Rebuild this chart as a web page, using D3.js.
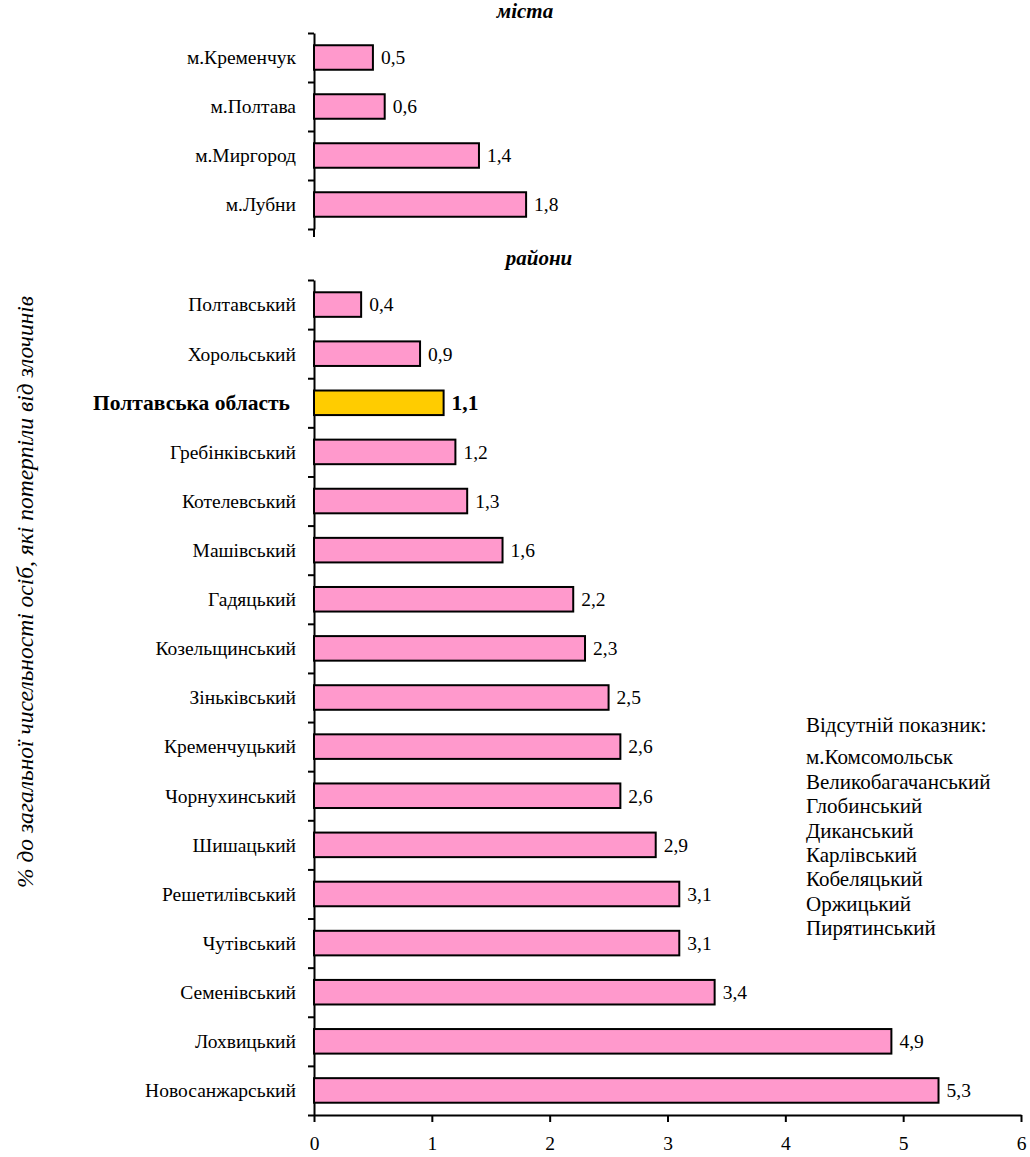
<!DOCTYPE html>
<html>
<head>
<meta charset="utf-8">
<script src="https://cdn.jsdelivr.net/npm/d3@7"></script>
<style>
  html, body { margin: 0; padding: 0; background: #fff; }
</style>
</head>
<body>
<script>
// Cities panel
const cities = ["м.Кременчук", "м.Полтава", "м.Миргород", "м.Лубни"];
const cityValues = [0.5, 0.6, 1.4, 1.8];

// Districts panel (regional average included)
const districts = ["Полтавський", "Хорольський", "Полтавська область", "Гребінківський",
  "Котелевський", "Машівський", "Гадяцький", "Козельщинський", "Зіньківський",
  "Кременчуцький", "Чорнухинський", "Шишацький", "Решетилівський", "Чутівський",
  "Семенівський", "Лохвицький", "Новосанжарський"];
const districtValues = [0.4, 0.9, 1.1, 1.2, 1.3, 1.6, 2.2, 2.3, 2.5, 2.6, 2.6, 2.9,
  3.1, 3.1, 3.4, 4.9, 5.3];
const regionLabel = "Полтавська область";

const xTicks = [0, 1, 2, 3, 4, 5, 6];
const panelTitles = ["міста", "райони"];
const missingTitle = "Відсутній показник:";
const missingItems = ["м.Комсомольськ", "Великобагачанський", "Глобинський", "Диканський",
  "Карлівський", "Кобеляцький", "Оржицький", "Пирятинський"];
const yTitle = "% до загальної чисельності осіб, які потерпіли від злочинів";

const W = 1030, H = 1157;
const PINK = "#FF99CC", GOLD = "#FFCC00";
const FS = 19.5;       // labels and ticks
const FS_BOLD = 21.5;  // regional average label and value
const FS_NOTE = 21;    // note and panel headings
const FS_YT = 23.5;    // vertical title
const FONT = "Liberation Serif";

const svg = d3.select("body").append("svg").attr("width", W).attr("height", H)
  .style("display", "block").attr("font-family", FONT);

const x = d3.scaleLinear().domain([0, 6]).range([314, 1021]);

function txt(sel, size) {
  return sel.attr("font-family", FONT).attr("font-size", size || FS).attr("fill", "#000");
}

function panel(names, values, top, bottom, title, titleX, axisExtra) {
  const g = svg.append("g");
  const y = d3.scaleBand().domain(names).range([top, bottom]).paddingInner(0.5).paddingOuter(0.25);
  // boundary ticks between categories
  const yb = d3.scaleLinear().domain([0, names.length]).range([top, bottom]);
  const ax = g.append("g").attr("transform", `translate(${x(0)},0)`)
    .call(d3.axisLeft(yb).tickValues(d3.range(names.length + 1)).tickFormat("").tickSize(6).tickSizeOuter(0));
  ax.selectAll("path, line").attr("stroke", "#000").attr("stroke-width", 2);
  if (axisExtra) {
    g.append("line").attr("x1", x(0)).attr("x2", x(0)).attr("y1", bottom).attr("y2", bottom + axisExtra)
      .attr("stroke", "#000").attr("stroke-width", 2);
  }

  g.selectAll("rect").data(names).join("rect")
    .attr("x", x(0))
    .attr("y", d => y(d))
    .attr("width", (d, i) => x(values[i]) - x(0))
    .attr("height", y.bandwidth())
    .attr("fill", d => d === regionLabel ? GOLD : PINK)
    .attr("stroke", "#000").attr("stroke-width", 2);

  const isRegion = d => d === regionLabel;

  g.selectAll("text.cat").data(names).join("text").attr("class", "cat")
    .call(txt)
    .attr("x", d => isRegion(d) ? x(0) - 24 : x(0) - 18)
    .attr("y", d => y(d) + y.bandwidth() / 2)
    .attr("dy", "0.35em")
    .attr("text-anchor", "end")
    .attr("font-size", d => isRegion(d) ? FS_BOLD : FS)
    .attr("font-weight", d => isRegion(d) ? "bold" : "normal")
    .text(d => d);

  g.selectAll("text.val").data(names).join("text").attr("class", "val")
    .call(txt)
    .attr("x", (d, i) => x(values[i]) + 8)
    .attr("y", d => y(d) + y.bandwidth() / 2)
    .attr("dy", "0.35em")
    .attr("font-size", d => isRegion(d) ? FS_BOLD : FS)
    .attr("font-weight", d => isRegion(d) ? "bold" : "normal")
    .text((d, i) => String(values[i]).replace(".", ","));

  g.append("text").call(txt, FS_NOTE).attr("x", titleX).attr("y", top - 15)
    .attr("text-anchor", "middle")
    .attr("font-weight", "bold").attr("font-style", "italic")
    .text(title);
}

panel(cities, cityValues, 33, 229, panelTitles[0], 525, 8);
panel(districts, districtValues, 280, 1115, panelTitles[1], 539, 0);

// value axis
const xa = svg.append("g").attr("transform", "translate(0,1115)")
  .call(d3.axisBottom(x).tickValues(xTicks).tickFormat(d => d).tickSize(7).tickSizeOuter(0).tickPadding(14));
xa.attr("font-family", FONT);
xa.selectAll("path, line").attr("stroke", "#000").attr("stroke-width", 2);
xa.selectAll("text").call(txt);

// vertical title
svg.append("text").call(txt, FS_YT)
  .attr("transform", "translate(33,592) rotate(-90)")
  .attr("text-anchor", "middle").attr("font-style", "italic")
  .text(yTitle);

// missing-data note
const note = svg.append("g");
note.append("text").call(txt, FS_NOTE).attr("x", 806).attr("y", 725).attr("dy", "0.35em").text(missingTitle);
note.selectAll("text.item").data(missingItems).join("text").attr("class", "item")
  .call(txt, FS_NOTE)
  .attr("x", 806).attr("y", (d, i) => 757 + i * 24.4).attr("dy", "0.35em")
  .text(d => d);
</script>
</body>
</html>
